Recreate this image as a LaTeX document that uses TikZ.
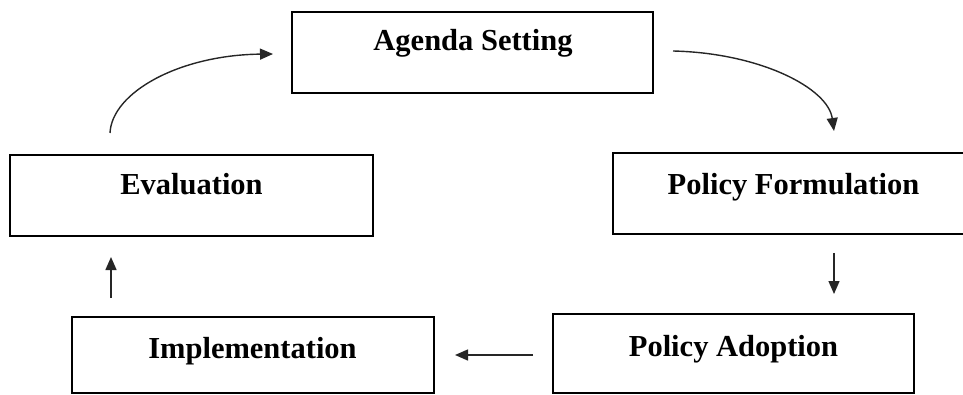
\documentclass[tikz,border=0pt]{standalone}
\usepackage{fontspec}
\setmainfont{Liberation Serif}
\usetikzlibrary{arrows.meta}
\begin{document}
\begin{tikzpicture}[x=1pt,y=-1pt,
  stagebox/.style={draw=black,line width=1.8pt,rectangle,inner sep=0pt},
  stagetext/.style={anchor=base,inner sep=0pt,font=\fontsize{30.5}{36}\selectfont\bfseries},
  flow/.style={line width=1.4pt,draw=black!85,-{Triangle[length=13pt,width=11pt]}}]
\useasboundingbox (0,0) rectangle (963,395);
% boxes
\node[stagebox,minimum width=361pt,minimum height=81pt] (agenda) at (472.5,52.5) {};
\node[stagebox,minimum width=363pt,minimum height=81pt] (eval) at (191.5,195.5) {};
\node[stagebox,minimum width=361pt,minimum height=81pt] (form) at (793.5,193.5) {};
\node[stagebox,minimum width=361pt,minimum height=79pt] (adopt) at (733.5,353.5) {};
\node[stagebox,minimum width=362pt,minimum height=76pt] (impl) at (253,355) {};
% texts
\node[stagetext] (agendaT) at (473,51) {Agenda Setting};
\node[stagetext] (evalT) at (191.5,195) {Evaluation};
\node[stagetext] (formT) at (793.5,195) {Policy Formulation};
\node[stagetext] (adoptT) at (733.5,356) {Policy Adoption};
\node[stagetext] (implT) at (252.5,358) {Implementation};
% connector end points
\coordinate (e1) at (110,133);
\coordinate (a0) at (273,54);
\coordinate (a1) at (673,51);
\coordinate (f0) at (834,131);
\coordinate (f1) at (834,253);
\coordinate (p0) at (834,294);
\coordinate (p1) at (533,355);
\coordinate (i0) at (455,355);
\coordinate (i1) at (111,298);
\coordinate (v0) at (111,257);
% connectors
\draw[flow] (e1) .. controls (112,92) and (180,55) .. (a0);
\draw[flow] (a1) .. controls (760,53) and (828,88) .. (f0);
\draw[flow] (f1) -- (p0);
\draw[flow] (p1) -- (i0);
\draw[flow] (i1) -- (v0);
\end{tikzpicture}
\end{document}
